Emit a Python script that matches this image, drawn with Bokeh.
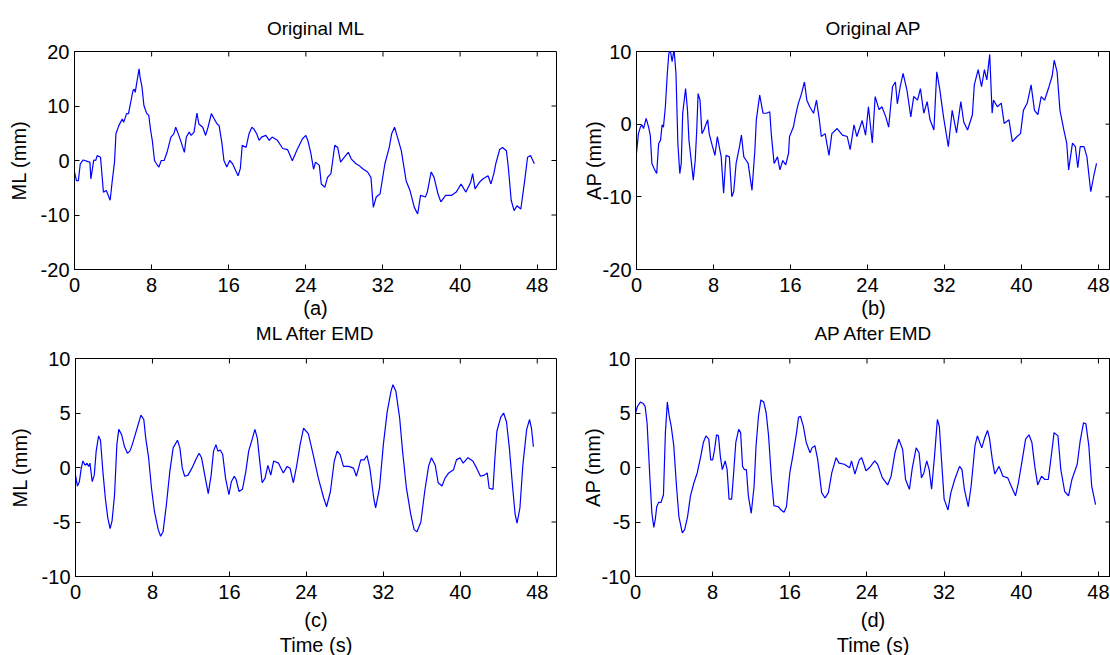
import math
from bokeh.plotting import figure
from bokeh.layouts import column, row
from bokeh.models import Range1d, FixedTicker, Title
from bokeh.embed import file_html
from bokeh.resources import INLINE

FONT = "Liberation Sans"

# ---------------- data ----------------
x_ticks = [0, 8, 16, 24, 32, 40, 48]
y_ticks_ml = [-20, -10, 0, 10, 20]
y_ticks_ap = [-20, -10, 0, 10]
y_ticks_emd = [-10, -5, 0, 5, 10]

# (a) Original ML
t_ml_orig = [
    0, 0.2, 0.4, 0.6, 0.9, 1.4, 1.6, 1.7, 2.0, 2.2,
    2.35, 2.7, 3.0, 3.3, 3.7, 3.9, 4.15, 4.3, 4.6, 4.95,
    5.1, 5.4, 5.6, 5.8, 6.06, 6.2, 6.3, 6.5, 6.7, 6.8,
    7.0, 7.2, 7.5, 7.7, 7.9, 8.07, 8.3, 8.5, 8.76, 9.0,
    9.3, 9.6, 10.0, 10.3, 10.5, 10.7, 11.0, 11.4, 11.6, 11.9,
    12.1, 12.4, 12.7, 12.9, 13.3, 13.6, 13.85, 14.2, 14.5, 14.8,
    15.0, 15.3, 15.5, 15.8, 16.1, 16.4, 16.7, 16.97, 17.2, 17.4,
    17.8, 18.1, 18.4, 18.6, 18.9, 19.15, 19.4, 19.85, 20.2, 20.5,
    21.05, 21.6, 22.1, 22.6, 23.1, 23.65, 24.0, 24.2, 24.5, 24.8,
    25.0, 25.4, 25.6, 25.97, 26.25, 26.6, 27.0, 27.3, 27.6, 28.0,
    28.4, 28.7, 29.2, 29.5, 29.9, 30.4, 30.75, 31.0, 31.3, 31.7,
    32.2, 32.65, 32.9, 33.2, 33.5, 33.9, 34.4, 34.8, 35.25, 35.6,
    35.9, 36.4, 36.6, 37.0, 37.3, 37.7, 38.0, 38.5, 39.1, 39.6,
    40.1, 40.6, 41.1, 41.3, 41.55, 42.0, 42.35, 42.9, 43.2, 43.5,
    43.7, 44.1, 44.4, 44.8, 45.0, 45.3, 45.6, 45.9, 46.3, 46.7,
    47.0, 47.3, 47.55, 47.7]
ml_orig = [
    -2.1, -3.7, -3.7, -0.6, 0.1, -0.2, -0.3, -3.4, 0.1, 0.0,
    0.9, 0.6, -5.8, -5.5, -7.3, -4.0, -0.3, 4.9, 6.4, 7.6,
    7.0, 8.6, 8.6, 10.4, 12.8, 13.1, 12.5, 14.7, 16.8, 15.3,
    13.5, 10.1, 8.6, 8.3, 5.5, 3.7, 0.0, -0.6, -1.2, 0.0,
    0.0, 1.5, 4.3, 4.9, 6.1, 5.2, 3.7, 1.5, 4.3, 5.2,
    4.6, 5.2, 8.7, 6.7, 6.1, 4.6, 6.1, 8.6, 7.6, 6.7,
    6.4, 3.1, 0.0, -1.2, 0.0, -0.6, -1.8, -2.8, -1.5, 2.8,
    2.4, 4.9, 6.1, 5.8, 4.9, 3.7, 4.3, 4.6, 3.7, 4.3,
    3.7, 2.2, 2.0, -0.05, 2.0, 4.0, 4.6, 3.7, 1.5, -1.6,
    -0.3, -0.9, -4.3, -4.9, -3.1, -2.4, 2.8, 2.4, -0.3, 0.6,
    1.5, 0.3, -0.6, -0.9, -1.5, -2.1, -3.1, -8.6, -6.7, -6.1,
    -0.6, 2.4, 4.9, 6.1, 4.3, 1.8, -3.7, -5.5, -8.6, -9.8,
    -6.4, -6.7, -5.8, -2.1, -3.1, -6.1, -7.6, -6.4, -6.4, -5.8,
    -4.3, -5.8, -4.0, -2.4, -5.2, -4.0, -3.4, -2.8, -4.3, -2.4,
    -0.6, 2.0, 2.4, 1.8, -1.2, -7.3, -9.2, -8.3, -8.9, -3.7,
    0.6, 0.9, 0.0, -0.6]

# (b) Original AP
t_ap_orig = [
    0, 0.2, 0.4, 0.56, 0.73, 1.0, 1.26, 1.43, 1.6, 1.9,
    2.1, 2.3, 2.5, 2.66, 2.8, 3.0, 3.2, 3.36, 3.5, 3.7,
    3.9, 4.1, 4.3, 4.5, 4.65, 4.8, 5.1, 5.3, 5.45, 5.6,
    5.9, 6.1, 6.26, 6.4, 6.6, 6.8, 7.0, 7.4, 7.55, 7.9,
    8.15, 8.4, 8.8, 9.05, 9.3, 9.65, 9.9, 10.1, 10.35, 10.7,
    10.9, 11.15, 11.4, 11.6, 12.0, 12.3, 12.45, 12.8, 13.15, 13.5,
    13.85, 14.0, 14.3, 14.65, 14.9, 15.2, 15.5, 15.8, 15.9, 16.3,
    16.5, 16.8, 17.1, 17.45, 17.7, 18.0, 18.4, 18.7, 19.0, 19.2,
    19.6, 20.0, 20.3, 20.85, 21.4, 21.9, 22.2, 22.6, 22.9, 23.45,
    23.8, 24.1, 24.5, 24.8, 25.2, 25.5, 25.9, 26.2, 26.6, 26.9,
    27.1, 27.4, 27.7, 28.1, 28.5, 28.8, 29.2, 29.5, 29.85, 30.2,
    30.5, 30.9, 31.2, 31.5, 31.9, 32.4, 32.8, 33.25, 33.7, 34.0,
    34.4, 34.9, 35.1, 35.5, 35.85, 36.15, 36.4, 36.7, 36.95, 37.1,
    37.5, 37.9, 38.2, 38.7, 39.05, 39.55, 39.9, 40.2, 40.6, 41.0,
    41.35, 41.7, 42.05, 42.4, 42.8, 43.2, 43.4, 43.7, 44.0, 44.4,
    44.7, 44.9, 45.3, 45.6, 45.85, 46.1, 46.5, 46.8, 47.2, 47.5,
    47.8]
ap_orig = [
    -4.0, -1.3, -0.4, -0.1, -0.6, 0.8, -0.4, -1.5, -5.4, -6.3,
    -6.8, -2.7, -2.2, -0.1, -0.4, 2.4, 7.0, 9.7, 10.3, 8.6,
    10.3, 7.0, -2.7, -6.8, -5.4, 1.5, 4.9, 1.9, -2.2, -4.0,
    -7.7, -5.0, -0.8, 4.2, 3.3, -1.3, -0.8, 0.6, -1.3, -3.1,
    -4.3, -1.7, -4.5, -9.5, -4.3, -4.5, -10.0, -9.3, -5.4, -3.1,
    -1.5, -4.5, -5.0, -5.4, -9.1, -3.6, 0.6, 4.0, 1.5, 1.5,
    1.7, -1.3, -5.4, -4.5, -6.3, -5.0, -5.6, -4.0, -1.7, -0.4,
    1.0, 2.8, 4.0, 5.8, 3.3, 2.4, 1.5, 3.3, 0.6, -1.7,
    -1.3, -4.3, -1.3, -0.6, -1.5, -1.7, -3.5, -0.1, -1.7, 0.5,
    -1.5, 2.4, -2.6, 3.8, 2.0, 2.4, 1.0, -0.4, 5.15, 5.8,
    2.8, 5.15, 7.0, 4.7, 1.0, 3.8, 3.3, 4.9, 1.5, 3.1,
    0.6, -0.8, 7.2, 4.9, 1.0, -3.1, 1.9, -1.2, 3.1, 0.3,
    -0.8, 1.3, 5.4, 7.5, 5.15, 7.5, 6.1, 9.6, 1.5, 3.3,
    2.4, 2.9, 0.1, 0.6, -2.4, -1.7, -1.3, 1.9, 2.9, 5.4,
    1.9, 1.3, 3.8, 3.3, 4.9, 6.7, 8.8, 7.2, 1.9, -0.8,
    -2.6, -6.3, -2.6, -3.1, -6.0, -3.1, -3.1, -4.5, -9.3, -7.2,
    -5.4]

# (c) ML after EMD
t_ml_emd = [
    0, 0.2, 0.4, 0.6, 0.77, 1.0, 1.2, 1.36, 1.5, 1.74,
    1.95, 2.15, 2.4, 2.6, 2.85, 3.1, 3.35, 3.6, 3.8, 4.06,
    4.3, 4.5, 4.8, 5.1, 5.4, 5.65, 5.9, 6.2, 6.5, 6.8,
    7.1, 7.3, 7.6, 7.9, 8.2, 8.6, 8.85, 9.1, 9.45, 9.8,
    10.15, 10.6, 10.85, 11.1, 11.35, 11.7, 12.1, 12.6, 12.85, 13.1,
    13.5, 13.8, 14.1, 14.35, 14.6, 14.8, 15.05, 15.3, 15.6, 15.95,
    16.2, 16.5, 16.7, 17.0, 17.35, 17.7, 18.0, 18.4, 18.65, 18.9,
    19.2, 19.4, 19.7, 20.0, 20.3, 20.6, 21.1, 21.6, 22.0, 22.3,
    22.65, 23.0, 23.35, 23.7, 24.2, 24.7, 25.25, 25.8, 26.1, 26.5,
    26.9, 27.2, 27.5, 27.85, 28.4, 28.9, 29.2, 29.65, 30.0, 30.3,
    30.6, 31.0, 31.2, 31.6, 32.0, 32.4, 32.8, 33.0, 33.3, 33.7,
    34.0, 34.4, 34.85, 35.2, 35.5, 35.9, 36.3, 36.7, 37.0, 37.4,
    37.7, 38.1, 38.4, 38.8, 39.3, 39.6, 39.97, 40.3, 40.8, 41.3,
    41.7, 42.1, 42.5, 42.8, 43.0, 43.4, 43.6, 43.8, 44.2, 44.5,
    44.8, 45.1, 45.45, 45.7, 45.9, 46.2, 46.5, 46.9, 47.2, 47.4,
    47.6]
ml_emd = [
    -0.7, -1.7, -1.3, -0.06, 0.6, 0.2, 0.4, 0.1, 0.4, -1.3,
    -0.7, 1.5, 2.9, 2.5, -0.4, -2.8, -4.6, -5.6, -4.9, -2.5,
    2.1, 3.5, 3.0, 1.9, 1.3, 1.5, 2.1, 3.0, 3.9, 4.8,
    4.4, 2.7, 0.9, -1.9, -4.0, -5.7, -6.3, -5.9, -3.4, -0.4,
    1.8, 2.5, 1.8, -0.06, -0.8, -0.7, -0.06, 0.9, 1.3, 0.9,
    -1.0, -2.4, -0.7, 1.5, 2.1, 1.5, 1.6, 1.2, -1.0, -2.5,
    -1.3, -0.8, -1.1, -2.2, -2.0, -0.4, 1.5, 2.7, 3.5, 2.7,
    0.2, -1.4, -1.0, 0.2, -0.7, 0.6, 0.4, -0.5, 0.1, -0.06,
    -1.4, 0.2, 2.1, 3.6, 3.1, 1.2, -1.0, -2.8, -3.6, -2.2,
    0.6, 1.5, 1.2, 0.1, 0.1, -0.06, -0.8, 0.7, 0.7, 1.1,
    -0.06, -2.8, -3.7, -1.9, 2.1, 5.1, 7.0, 7.6, 7.0, 4.5,
    1.5, -1.9, -4.3, -5.7, -5.9, -5.0, -2.2, 0.1, 0.9, 0.2,
    -1.4, -1.7, -1.0, -0.5, -0.2, 0.7, 0.9, 0.4, 0.9, 0.6,
    -0.06, -0.8, -0.7, -0.5, -1.9, -2.0, 0.9, 3.3, 4.6, 5.0,
    4.2, 1.8, -1.9, -4.3, -5.1, -3.7, 0.2, 3.5, 4.4, 3.6,
    1.9]

# (d) AP after EMD
t_ap_emd = [
    0, 0.2, 0.5, 0.77, 1.0, 1.2, 1.36, 1.5, 1.7, 1.9,
    2.06, 2.2, 2.4, 2.65, 2.9, 3.1, 3.3, 3.5, 3.7, 3.97,
    4.25, 4.5, 4.85, 5.1, 5.4, 5.7, 6.06, 6.4, 6.76, 7.04,
    7.3, 7.6, 7.8, 8.0, 8.2, 8.4, 8.6, 8.8, 9.0, 9.3,
    9.5, 9.7, 9.97, 10.2, 10.4, 10.7, 10.9, 11.1, 11.3, 11.5,
    11.7, 12.0, 12.3, 12.5, 12.75, 13.0, 13.3, 13.55, 13.8, 14.1,
    14.35, 14.8, 15.1, 15.4, 15.65, 16.0, 16.3, 16.7, 16.9, 17.1,
    17.4, 17.7, 18.1, 18.3, 18.6, 18.9, 19.3, 19.65, 20.0, 20.35,
    20.8, 21.1, 21.65, 22.2, 22.4, 22.75, 23.2, 23.45, 23.9, 24.25,
    24.8, 25.1, 25.6, 26.15, 26.5, 26.9, 27.3, 27.7, 28.0, 28.4,
    28.7, 29.1, 29.4, 29.65, 29.9, 30.2, 30.45, 30.7, 31.0, 31.3,
    31.5, 31.75, 32.0, 32.4, 32.7, 33.1, 33.6, 33.85, 34.1, 34.5,
    34.8, 35.2, 35.45, 35.9, 36.2, 36.5, 36.7, 37.0, 37.25, 37.7,
    38.1, 38.6, 38.95, 39.4, 39.7, 40.1, 40.45, 40.8, 41.1, 41.4,
    41.7, 42.1, 42.45, 42.8, 43.15, 43.4, 43.8, 44.1, 44.5, 44.9,
    45.25, 45.8, 46.1, 46.45, 46.7, 47.0, 47.3, 47.7]
ap_emd = [
    5.0, 5.6, 6.0, 5.9, 5.6, 4.1, 1.35, -1.1, -4.2, -5.5,
    -4.7, -3.6, -3.2, -3.2, -2.5, 3.2, 6.0, 4.7, 3.8, 2.0,
    -1.7, -4.5, -6.0, -5.7, -4.5, -2.6, -1.4, -0.5, 1.0, 2.3,
    2.9, 2.6, 0.7, 0.7, 1.65, 3.0, 2.9, 1.0, -0.2, 0.6,
    -0.2, -2.9, -2.9, -0.2, 2.3, 3.5, 3.2, 0.1, -0.2, -0.2,
    -2.6, -4.2, -1.7, 2.0, 4.7, 6.2, 6.0, 5.0, 2.9, -1.1,
    -3.5, -3.6, -3.9, -4.1, -3.6, -0.5, 1.0, 3.2, 4.6, 4.7,
    3.8, 2.3, 1.35, 1.8, 2.0, 0.7, -2.3, -2.8, -2.3, -0.5,
    0.9, 0.4, 0.3, -0.03, 0.6, -0.6, 0.7, 0.9, -0.3, -0.03,
    0.6, 0.3, -0.95, -1.6, -0.8, 1.35, 2.6, 1.65, -1.1, -2.0,
    -0.03, 1.8, 1.35, -0.95, -0.5, 0.6, -0.2, -2.0, 1.0, 4.4,
    3.8, 0.4, -2.9, -3.9, -2.3, -1.1, 0.1, -0.2, -2.0, -3.6,
    -1.7, 2.0, 2.9, 1.8, 2.7, 3.4, 2.7, 0.7, -0.6, 0.1,
    -0.8, -0.95, -1.7, -2.6, -1.4, 0.7, 2.6, 3.0, 2.3, 0.1,
    -1.6, -0.8, -1.1, -1.1, 1.35, 3.2, 2.9, -0.2, -2.2, -2.6,
    -1.1, 0.3, 2.4, 4.1, 4.0, 2.0, -1.7, -3.4]


# ---------------- styling helpers ----------------
def style_axis(ax, ticks, tick_standoff, label_standoff):
    ax.ticker = FixedTicker(ticks=ticks)
    ax.major_label_overrides = {t: str(t) for t in ticks}  # plain hyphen minus
    ax.axis_line_color = "black"
    ax.major_tick_line_color = "black"
    ax.major_tick_in = 5
    ax.major_tick_out = 0
    ax.minor_tick_line_color = None
    ax.major_label_standoff = tick_standoff
    ax.major_label_text_font = FONT
    ax.major_label_text_font_size = "20px"
    ax.major_label_text_color = "black"
    ax.axis_label_standoff = label_standoff
    ax.axis_label_text_font = FONT
    ax.axis_label_text_font_size = "20px"
    ax.axis_label_text_font_style = "normal"
    ax.axis_label_text_color = "black"


def text_title(text, size, standoff):
    return Title(text=text, align="center", vertical_align="top",
                 text_font=FONT, text_font_size=size, text_font_style="normal",
                 text_color="black", standoff=standoff)


def panel(t, v, title, ylab, sub, y_lo, y_hi, yticks, x_hi, fw,
          left, right, top, bottom, ylab_standoff, xlab_standoff,
          below_text, below_size, below_standoff):
    p = figure(frame_width=fw, frame_height=218,
               x_range=Range1d(0, x_hi), y_range=Range1d(y_lo, y_hi),
               output_backend="svg", toolbar_location=None,
               min_border_left=left, min_border_right=right,
               min_border_top=top, min_border_bottom=bottom,
               background_fill_color="white", border_fill_color="white")
    p.outline_line_color = "black"
    p.outline_line_width = 1
    p.grid.visible = False

    p.title.text = title
    p.title.align = "center"
    p.title.text_font = FONT
    p.title.text_font_size = "19px"
    p.title.text_font_style = "normal"
    p.title.text_color = "black"
    p.title.standoff = 26

    style_axis(p.xaxis[0], x_ticks, 8, xlab_standoff)
    style_axis(p.yaxis[0], yticks, 5, ylab_standoff)
    p.xaxis[0].axis_label = sub
    p.yaxis[0].axis_label = ylab

    # inward ticks on the top and right edges of the box
    p.ray(x=x_ticks, y=[y_hi] * len(x_ticks), length=5, length_units="screen",
          angle=-math.pi / 2, line_color="black", line_width=1)
    p.ray(x=[x_hi] * len(yticks), y=yticks, length=5, length_units="screen",
          angle=math.pi, line_color="black", line_width=1)

    p.line(t, v, line_color="#0000ff", line_width=1.2)

    if below_text:
        p.add_layout(text_title(below_text, below_size, below_standoff), "below")
    return p


# Top row: the titles of the lower panels sit directly under the "(a)"/"(b)"
# captions, so they are laid out in the upper figures' bottom margin.
pa = panel(t_ml_orig, ml_orig, "Original ML", "ML (mm)", "(a)", -20, 20, y_ticks_ml,
           50.0, 482, 74, 4, 51, 76, 8, 2, "ML After EMD", "19px", 2)
pb = panel(t_ap_orig, ap_orig, "Original AP", "AP (mm)", "(b)", -20, 10, y_ticks_ap,
           49.25, 474, 76, 0, 51, 76, -5, 2, "AP After EMD", "19px", 2)
pc = panel(t_ml_emd, ml_emd, "", "ML (mm)", "(c)", -10, 10, y_ticks_emd,
           50.0, 481, 75, 4, 12, 74, 8, 7, "Time (s)", "20px", 0)
pd = panel(t_ap_emd, ap_emd, "", "AP (mm)", "(d)", -10, 10, y_ticks_emd,
           49.25, 475, 75, 0, 12, 74, -5, 7, "Time (s)", "20px", 0)

layout = column(row(pa, pb), row(pc, pd))

with open("out.html", "w") as f:
    f.write(file_html(layout, INLINE))
